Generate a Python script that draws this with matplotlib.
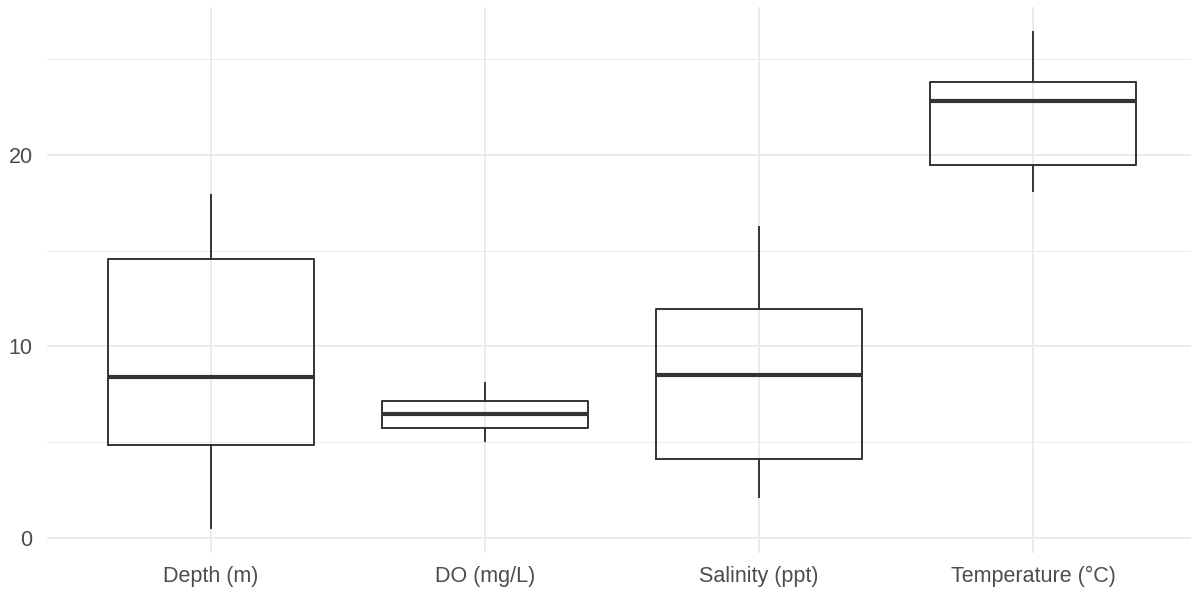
import matplotlib
matplotlib.use("Agg")
import matplotlib.pyplot as plt
from matplotlib.ticker import MultipleLocator

# box statistics
categories = ["Depth (m)", "DO (mg/L)", "Salinity (ppt)", "Temperature (°C)"]
whisker_low = [0.52, 5.05, 2.11, 18.13]
q1 = [4.83, 5.72, 4.10, 19.47]
median = [8.38, 6.46, 8.48, 22.80]
q3 = [14.56, 7.14, 11.95, 23.82]
whisker_high = [17.90, 8.10, 16.25, 26.44]

plt.rcParams['font.family'] = ['Liberation Sans', 'DejaVu Sans']

W, H = 1191, 592
fig = plt.figure(figsize=(W / 100, H / 100), dpi=100)
# panel position in pixels
left, right, top, bottom = 46.5, 1191, 6.8, 552.6
ax = fig.add_axes([left / W, 1 - bottom / H, (right - left) / W, (bottom - top) / H])

stats = []
for i, name in enumerate(categories):
    stats.append(dict(label=name, whislo=whisker_low[i], q1=q1[i], med=median[i],
                      q3=q3[i], whishi=whisker_high[i], fliers=[]))

line = dict(color="#333333", linewidth=1.4)
ax.bxp(stats, positions=range(1, 5), widths=0.75, showcaps=False,
       boxprops=line, whiskerprops=line,
       medianprops=dict(color="#333333", linewidth=3.0),
       patch_artist=False)

# y range with ggplot-style 5% expansion
lo, hi = min(whisker_low), max(whisker_high)
pad = 0.05 * (hi - lo)
ax.set_ylim(lo - pad, hi + pad)
ax.set_xlim(0.4, 4 + (right - 1033.3) / 274)

ax.yaxis.set_major_locator(MultipleLocator(10))
ax.yaxis.set_minor_locator(MultipleLocator(5))
ax.grid(which="major", color="#EBEBEB", linewidth=1.4)
ax.grid(which="minor", axis="y", color="#EBEBEB", linewidth=0.7)
ax.set_axisbelow(True)
for s in ax.spines.values():
    s.set_visible(False)
ax.tick_params(which="both", length=0)
ax.tick_params(axis="y", pad=10, labelsize=15.5, labelcolor="#4D4D4D")
ax.tick_params(axis="x", pad=9.5, labelsize=15.5, labelcolor="#4D4D4D")
ax.set_xticks(range(1, 5))
ax.set_xticklabels(categories)

fig.savefig("out.png", dpi=100)
